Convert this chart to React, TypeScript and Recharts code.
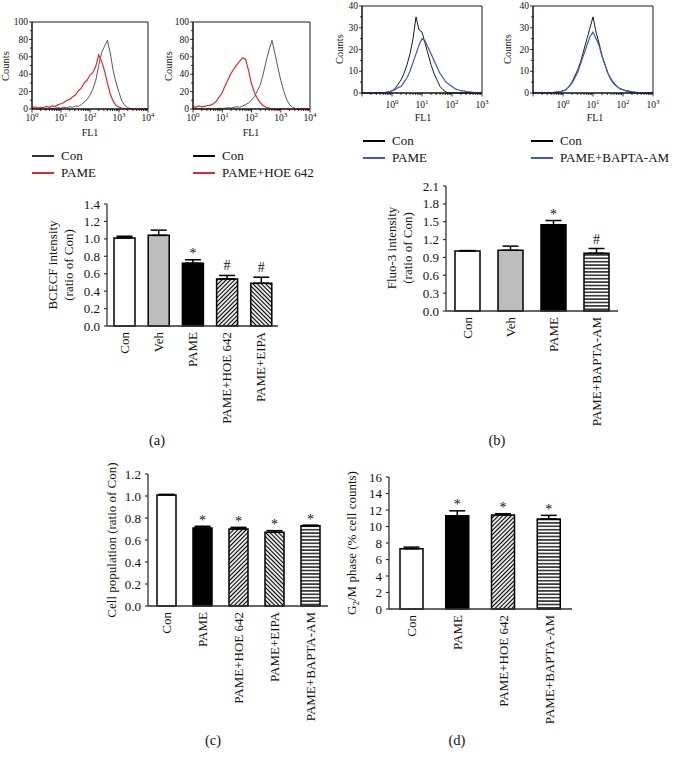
import React from 'react';
import {
  LineChart,
  Line,
  XAxis,
  YAxis,
  ReferenceArea,
  BarChart,
  Bar,
  Cell,
  ErrorBar,
  LabelList,
} from 'recharts';

const SERIF = '"Liberation Serif", "Times New Roman", serif';

// ---- flow cytometry histograms (x = log10 FL1) ----
const histXA = [0, 0.1, 0.2, 0.3, 0.4, 0.5, 0.6, 0.7, 0.8, 0.9, 1, 1.1, 1.2, 1.3, 1.4, 1.5, 1.6, 1.7, 1.8, 1.9, 2, 2.1, 2.2, 2.3, 2.4, 2.5, 2.6, 2.7, 2.8, 2.9, 3, 3.1, 3.2, 3.3, 3.4, 3.5, 3.6, 3.7, 3.8, 3.9, 4];
const histXB = [-1, -0.9, -0.8, -0.7, -0.6, -0.5, -0.4, -0.3, -0.2, -0.1, 0, 0.1, 0.2, 0.3, 0.4, 0.5, 0.6, 0.7, 0.8, 0.9, 1, 1.1, 1.2, 1.3, 1.4, 1.5, 1.6, 1.7, 1.8, 1.9, 2, 2.1, 2.2, 2.3, 2.4, 2.5, 2.6, 2.7, 2.8, 2.9, 3];

const h1Con = [0, 0.5, 0, 0.5, 0, 0.5, 1, 0.5, 1, 1.5, 1, 2, 1.5, 2.5, 2, 3.5, 3, 5, 8, 11, 16, 23, 33, 50, 65, 72, 79, 64, 44, 30, 19, 9, 4, 1.5, 0.5, 0, 0, 0, 0, 0, 0];
const h1Pame = [1.5, 2.5, 1, 2, 1.5, 3, 2, 3.5, 3, 5, 6, 7.5, 10, 11, 14, 16, 21, 24, 30, 33, 39, 42, 49, 62, 55, 44, 30, 17, 9, 4, 2, 1, 0.5, 0, 0, 0, 0, 0, 0, 0, 0];
const h2Con = [0, 0, 0.5, 0, 0, 0.5, 0.5, 0, 0.5, 1, 0.5, 1, 1.5, 1, 2, 2.5, 2, 3.5, 5, 7, 10, 14, 21, 28, 40, 55, 68, 79, 64, 48, 33, 21, 11, 5, 2, 0.5, 0, 0, 0, 0, 0];
const h2Hoe = [3, 2, 3.5, 2.5, 3, 4, 4.5, 6, 9, 14, 19, 27, 34, 41, 46, 51, 55, 59, 57, 44, 29, 19, 12, 7, 4, 2, 1, 0.5, 0, 0, 0, 0, 0, 0, 0, 0, 0, 0, 0, 0, 0];
const h3Con = [0, 0, 0, 0, 0, 0, 0.3, 0, 0.3, 0.5, 1, 2, 4, 6, 9, 13, 18, 25, 35, 29, 28, 23, 18, 13, 9, 6, 3, 1.5, 0.5, 0, 0, 0, 0, 0, 0, 0, 0, 0, 0, 0, 0];
const h3Pame = [0, 0, 0, 0, 0, 0, 0, 0, 0.3, 0.5, 1, 1.5, 2.5, 3, 5, 7, 10, 14, 18, 22, 25, 24, 21, 18, 15, 12, 9, 7, 5, 4, 3, 2, 1.5, 1, 1, 0.5, 0.5, 0.3, 0, 0, 0];
const h4Con = [0, 0.3, 0, 0.3, 0, 0.3, 0, 0.3, 0.3, 0.5, 1, 1.5, 3, 5, 8, 11, 15, 20, 25, 30, 35, 28, 23, 17, 13, 9, 6, 4, 3, 2, 1.5, 1, 0.5, 0, 0, 0, 0, 0, 0, 0, 0];
const h4Bapta = [0, 0, 0.3, 0, 0, 0.3, 0, 0.3, 0.5, 0.5, 1, 1.5, 3, 4.5, 7, 10, 14, 18, 22, 26, 28, 25, 22, 17, 13, 9, 6.5, 4.5, 3, 2, 1.5, 1, 1, 0.5, 0.5, 0, 0, 0, 0, 0, 0];

// ---- bar panels ----
const catsA = ['Con', 'Veh', 'PAME', 'PAME+HOE 642', 'PAME+EIPA'];
const valsA = [1.01, 1.04, 0.72, 0.54, 0.49];
const errsA = [0.02, 0.06, 0.04, 0.04, 0.07];
const sigA = ['', '', '*', '#', '#'];
const ticksA = [0, 0.2, 0.4, 0.6, 0.8, 1.0, 1.2, 1.4];

const catsB = ['Con', 'Veh', 'PAME', 'PAME+BAPTA-AM'];
const valsB = [1.01, 1.02, 1.45, 0.97];
const errsB = [0.005, 0.07, 0.07, 0.08];
const sigB = ['', '', '*', '#'];
const ticksB = [0, 0.3, 0.6, 0.9, 1.2, 1.5, 1.8, 2.1];

const catsC = ['Con', 'PAME', 'PAME+HOE 642', 'PAME+EIPA', 'PAME+BAPTA-AM'];
const valsC = [1.01, 0.71, 0.7, 0.67, 0.73];
const errsC = [0.005, 0.015, 0.015, 0.015, 0.005];
const sigC = ['', '*', '*', '*', '*'];
const ticksC = [0, 0.2, 0.4, 0.6, 0.8, 1.0, 1.2];

const catsD = ['Con', 'PAME', 'PAME+HOE 642', 'PAME+BAPTA-AM'];
const valsD = [7.3, 11.3, 11.4, 10.9];
const errsD = [0.2, 0.6, 0.15, 0.45];
const sigD = ['', '*', '*', '*'];
const ticksD = [0, 2, 4, 6, 8, 10, 12, 14, 16];

const RED = '#e3262c';
const BLUE = '#4455bb';

function logTicks(lo: number, hi: number) {
  const t: number[] = [];
  for (let d = lo; d <= hi; d++) {
    t.push(d);
    if (d < hi) for (let m = 2; m <= 9; m++) t.push(d + Math.log10(m));
  }
  return t;
}

function Txt({ x, y, size = 13, rot = false, children }: any) {
  return (
    <div
      style={{
        position: 'absolute',
        left: x,
        top: y,
        transform: `translate(-50%, -50%)${rot ? ' rotate(-90deg)' : ''}`,
        fontSize: size,
        whiteSpace: 'nowrap',
        lineHeight: 1.25,
        textAlign: 'center',
        color: '#111',
      }}
    >
      {children}
    </div>
  );
}

function LegendRow({ x, y, color, label }: any) {
  return (
    <>
      <div style={{ position: 'absolute', left: x, top: y - 0.6, width: 22, height: 1.3, background: color }} />
      <div
        style={{
          position: 'absolute',
          left: x + 29,
          top: y - 9,
          fontSize: 13,
          lineHeight: '18px',
          whiteSpace: 'nowrap',
          color: '#111',
        }}
      >
        {label}
      </div>
    </>
  );
}

function Histogram({ left, top, width, height, mt, mr, yw, xh, xs, con, trt, conColor, trtColor, xLo, xHi, yMax, yStep, yLabelStep, labelDy }: any) {
  const data = xs.map((x: number, i: number) => ({ x, con: con[i], trt: trt[i] }));
  const yTicks: number[] = [];
  for (let v = 0; v <= yMax; v += yStep) yTicks.push(v);
  const xTick = ({ x, y, payload }: any) => {
    const v = payload.value;
    const major = Math.abs(v - Math.round(v)) < 1e-6;
    const n = Math.round(v);
    return (
      <g>
        <line x1={x} x2={x} y1={y} y2={y + (major ? 3.5 : 2)} stroke="#000" strokeWidth={0.8} />
        {major && n >= 0 && (
          <text x={x} y={y + labelDy} textAnchor="middle" fontSize={9.5} fontFamily={SERIF} fill="#111">
            10<tspan dy={-4} fontSize={7}>{n}</tspan>
          </text>
        )}
      </g>
    );
  };
  const yTick = ({ x, y, payload }: any) => {
    const v = payload.value;
    const lab = v % yLabelStep === 0;
    return (
      <g>
        <line x1={x - (lab ? 3 : 2)} x2={x} y1={y} y2={y} stroke="#000" strokeWidth={0.8} />
        {lab && (
          <text x={x - 4} y={y + 3.2} textAnchor="end" fontSize={9.5} fontFamily={SERIF} fill="#111">
            {v}
          </text>
        )}
      </g>
    );
  };
  return (
    <div style={{ position: 'absolute', left, top }}>
      <LineChart width={width} height={height} data={data} margin={{ top: mt, right: mr, bottom: 0, left: 0 }}>
        <XAxis
          dataKey="x"
          type="number"
          domain={[xLo, xHi]}
          ticks={logTicks(xLo, xHi)}
          interval={0}
          tick={xTick}
          tickLine={false}
          tickSize={0}
          tickMargin={0}
          height={xh}
          axisLine={{ stroke: '#000', strokeWidth: 0.9 }}
        />
        <YAxis
          type="number"
          domain={[0, yMax]}
          ticks={yTicks}
          interval={0}
          tick={yTick}
          tickLine={false}
          tickSize={0}
          tickMargin={0}
          width={yw}
          axisLine={{ stroke: '#000', strokeWidth: 0.9 }}
        />
        <ReferenceArea x1={xLo} x2={xHi} y1={0} y2={yMax} fill="none" stroke="#000" strokeWidth={0.9} ifOverflow="visible" />
        <Line dataKey="con" type="linear" stroke={conColor} strokeWidth={0.9} dot={false} activeDot={false} isAnimationActive={false} />
        <Line dataKey="trt" type="linear" stroke={trtColor} strokeWidth={1.2} dot={false} activeDot={false} isAnimationActive={false} />
      </LineChart>
    </div>
  );
}

function CatTick({ x, y, payload }: any) {
  return (
    <text
      x={x}
      y={y}
      transform={`rotate(-90, ${x}, ${y})`}
      textAnchor="end"
      dominantBaseline="central"
      fontSize={13}
      fontFamily={SERIF}
      fill="#111"
    >
      {payload.value}
    </text>
  );
}

function Patterns({ id }: { id: string }) {
  return (
    <defs>
      <pattern id={`${id}-fw`} patternUnits="userSpaceOnUse" width="3" height="3" patternTransform="rotate(45)">
        <rect width="3" height="3" fill="#fff" />
        <line x1="1.5" y1="0" x2="1.5" y2="3" stroke="#000" strokeWidth="1.2" />
      </pattern>
      <pattern id={`${id}-bw`} patternUnits="userSpaceOnUse" width="3" height="3" patternTransform="rotate(-45)">
        <rect width="3" height="3" fill="#fff" />
        <line x1="1.5" y1="0" x2="1.5" y2="3" stroke="#000" strokeWidth="1.2" />
      </pattern>
      <pattern id={`${id}-hz`} patternUnits="userSpaceOnUse" width="4" height="3.4">
        <rect width="4" height="3.4" fill="#fff" />
        <line x1="0" y1="1.7" x2="4" y2="1.7" stroke="#000" strokeWidth="1.3" />
      </pattern>
    </defs>
  );
}

function BarPanel({ id, left, top, width, height, mt, mr, yw, xh, cats, vals, errs, sigs, fills, ticks, barSize, fmt }: any) {
  const data = cats.map((c: string, i: number) => ({ name: c, value: vals[i], err: [0, errs[i]], sig: sigs[i] }));
  const sigLabel = (p: any) => {
    const { x, y, width: w, height: h, index, value } = p;
    if (!value || index == null) return null;
    const k = h / vals[index];
    const errTop = y - errs[index] * k;
    const base = value === '#' ? errTop - 5 : errTop - 1.5;
    return (
      <text key={`s${index}`} x={x + w / 2} y={base} textAnchor="middle" fontSize={14} fontFamily={SERIF} fill="#111">
        {value}
      </text>
    );
  };
  const fillOf = (f: string) => (f === 'fw' || f === 'bw' || f === 'hz' ? `url(#${id}-${f})` : f);
  return (
    <div style={{ position: 'absolute', left, top }}>
      <BarChart width={width} height={height} data={data} margin={{ top: mt, right: mr, bottom: 0, left: 0 }}>
        <Patterns id={id} />
        <XAxis
          dataKey="name"
          type="category"
          interval={0}
          tick={CatTick}
          tickLine={false}
          tickSize={0}
          tickMargin={6}
          height={xh}
          axisLine={{ stroke: '#333', strokeWidth: 1.3 }}
        />
        <YAxis
          type="number"
          domain={[ticks[0], ticks[ticks.length - 1]]}
          ticks={ticks}
          interval={0}
          tickFormatter={fmt}
          tick={{ fontSize: 13, fill: '#111', fontFamily: SERIF }}
          tickLine={{ stroke: '#333', strokeWidth: 1.2 }}
          tickSize={3}
          tickMargin={4}
          width={yw}
          axisLine={{ stroke: '#333', strokeWidth: 1.3 }}
        />
        <Bar dataKey="value" barSize={barSize} stroke="#000" strokeWidth={1.5} isAnimationActive={false}>
          {fills.map((f: string, i: number) => (
            <Cell key={i} fill={fillOf(f)} />
          ))}
          <ErrorBar dataKey="err" direction="y" width={8} stroke="#000" strokeWidth={1.5} isAnimationActive={false} />
          <LabelList dataKey="sig" content={sigLabel} />
        </Bar>
      </BarChart>
    </div>
  );
}

const f1 = (v: number) => v.toFixed(1);
const f0 = (v: number) => String(v);

export default function App() {
  return (
    <div
      style={{
        position: 'absolute',
        left: 0,
        top: 0,
        width: 674,
        height: 758,
        background: '#fff',
        overflow: 'hidden',
        fontFamily: SERIF,
      }}
    >
      {/* histograms */}
      <Histogram left={0} top={0} width={160} height={140} mt={22} mr={12} yw={32} xh={31}
        xs={histXA} con={h1Con} trt={h1Pame} conColor="#444" trtColor={RED}
        xLo={0} xHi={4} yMax={100} yStep={10} yLabelStep={20} labelDy={12} />
      <Histogram left={160} top={0} width={160} height={140} mt={22} mr={10} yw={33} xh={31}
        xs={histXA} con={h2Con} trt={h2Hoe} conColor="#444" trtColor={RED}
        xLo={0} xHi={4} yMax={100} yStep={10} yLabelStep={20} labelDy={12} />
      <Histogram left={335} top={0} width={160} height={130} mt={6} mr={13} yw={27} xh={37}
        xs={histXB} con={h3Con} trt={h3Pame} conColor="#000" trtColor={BLUE}
        xLo={-1} xHi={3} yMax={40} yStep={5} yLabelStep={10} labelDy={15} />
      <Histogram left={500} top={0} width={170} height={130} mt={6} mr={17} yw={33} xh={37}
        xs={histXB} con={h4Con} trt={h4Bapta} conColor="#000" trtColor={BLUE}
        xLo={-1} xHi={3} yMax={40} yStep={5} yLabelStep={10} labelDy={15} />

      <Txt x={6} y={66} size={10.5} rot>Counts</Txt>
      <Txt x={169} y={66} size={10.5} rot>Counts</Txt>
      <Txt x={340} y={49} size={10.5} rot>Counts</Txt>
      <Txt x={508} y={49} size={10.5} rot>Counts</Txt>
      <Txt x={90} y={133} size={10}>FL1</Txt>
      <Txt x={251} y={133} size={10}>FL1</Txt>
      <Txt x={423} y={118} size={10}>FL1</Txt>
      <Txt x={595} y={118} size={10}>FL1</Txt>

      <LegendRow x={32} y={156} color="#333" label="Con" />
      <LegendRow x={32} y={173} color={RED} label="PAME" />
      <LegendRow x={193} y={156} color="#000" label="Con" />
      <LegendRow x={193} y={173} color={RED} label="PAME+HOE 642" />
      <LegendRow x={363} y={141} color="#000" label="Con" />
      <LegendRow x={363} y={158} color={BLUE} label="PAME" />
      <LegendRow x={531} y={141} color="#000" label="Con" />
      <LegendRow x={531} y={158} color={BLUE} label="PAME+BAPTA-AM" />

      {/* bar panels */}
      <BarPanel id="pa" left={0} top={190} width={290} height={250} mt={14} mr={12} yw={107} xh={114}
        cats={catsA} vals={valsA} errs={errsA} sigs={sigA} fills={['#fff', '#bdbdbd', '#000', 'fw', 'bw']}
        ticks={ticksA} barSize={21} fmt={f1} />
      <BarPanel id="pb" left={340} top={175} width={290} height={262} mt={11} mr={12} yw={106} xh={126}
        cats={catsB} vals={valsB} errs={errsB} sigs={sigB} fills={['#fff', '#bdbdbd', '#000', 'hz']}
        ticks={ticksB} barSize={25} fmt={f1} />
      <BarPanel id="pc" left={0} top={460} width={340} height={266} mt={14} mr={12} yw={148} xh={120}
        cats={catsC} vals={valsC} errs={errsC} sigs={sigC} fills={['#fff', '#000', 'fw', 'bw', 'hz']}
        ticks={ticksC} barSize={19} fmt={f1} />
      <BarPanel id="pd" left={340} top={460} width={244} height={269} mt={17} mr={12} yw={49} xh={120}
        cats={catsD} vals={valsD} errs={errsD} sigs={sigD} fills={['#fff', '#000', 'fw', 'hz']}
        ticks={ticksD} barSize={23} fmt={f0} />

      <Txt x={61} y={265} size={13} rot>BCECF intensity<br />(ratio of Con)</Txt>
      <Txt x={400} y={248} size={13} rot>Fluo-3 intensity<br />(ratio of Con)</Txt>
      <Txt x={112} y={540} size={13} rot>Cell population (ratio of Con)</Txt>
      <Txt x={353} y={543} size={13} rot>G<sub style={{ fontSize: 9 }}>2</sub>/M phase (% cell counts)</Txt>

      <Txt x={157} y={440} size={14.5}>(a)</Txt>
      <Txt x={497} y={440} size={14.5}>(b)</Txt>
      <Txt x={213} y={740} size={14.5}>(c)</Txt>
      <Txt x={457} y={740} size={14.5}>(d)</Txt>
    </div>
  );
}
